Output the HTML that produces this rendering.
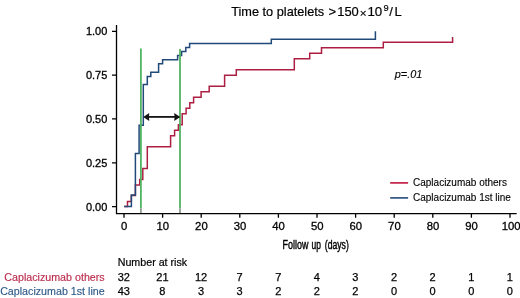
<!DOCTYPE html>
<html><head><meta charset="utf-8">
<style>
html,body{margin:0;padding:0;background:#fff;}
body{width:520px;height:298px;overflow:hidden;}
svg{display:block;will-change:transform;}
text{font-family:"Liberation Sans",sans-serif;}
</style></head>
<body>
<svg width="520" height="298" viewBox="0 0 520 298">

<!-- title -->
<g font-size="13" fill="#000" stroke="#000" stroke-width="0.2">
<text x="231.2" y="16.1" textLength="93" lengthAdjust="spacingAndGlyphs">Time to platelets</text>
<text x="328.6" y="16.1">&gt;</text>
<text x="337.2" y="16.1" textLength="21.6" lengthAdjust="spacingAndGlyphs">150</text>
<text x="359.7" y="16.5" font-size="11.6">×</text>
<text x="367.4" y="16.1" textLength="14.8" lengthAdjust="spacingAndGlyphs">10</text>
<text x="383.5" y="11.4" font-size="9.3">9</text>
<text x="389.3" y="16.1">/</text>
<text x="394.5" y="16.1">L</text>
</g>
<!-- axes -->
<g stroke="#000" stroke-width="1.3" fill="none">
<path d="M116.5 25V213.6H516.7"/>
<path d="M112 31.3H116.5M112 75.1H116.5M112 118.95H116.5M112 162.8H116.5M112 206.6H116.5"/>
<path d="M124.0 213.6V217.8M162.6 213.6V217.8M201.2 213.6V217.8M239.8 213.6V217.8M278.4 213.6V217.8M317.0 213.6V217.8M355.6 213.6V217.8M394.2 213.6V217.8M432.8 213.6V217.8M471.4 213.6V217.8M510.0 213.6V217.8"/>
</g>
<g font-size="11" fill="#000" stroke="#000" stroke-width="0.3" text-anchor="end">
<text x="107.3" y="35">1.00</text>
<text x="107.3" y="78.9">0.75</text>
<text x="107.3" y="122.8">0.50</text>
<text x="107.3" y="166.6">0.25</text>
<text x="107.3" y="210.5">0.00</text>
</g>
<g font-size="11.3" fill="#000" stroke="#000" stroke-width="0.3" text-anchor="middle">
<text x="124.2" y="230">0</text>
<text x="162.8" y="230">10</text>
<text x="201.4" y="230">20</text>
<text x="240.0" y="230">30</text>
<text x="278.6" y="230">40</text>
<text x="317.2" y="230">50</text>
<text x="355.8" y="230">60</text>
<text x="394.4" y="230">70</text>
<text x="433.0" y="230">80</text>
<text x="471.6" y="230">90</text>
<text x="511.2" y="230">100</text>
</g>
<g font-size="13.4" fill="#000" stroke="#000" stroke-width="0.45">
<text x="282.6" y="249.2" textLength="25.8" lengthAdjust="spacingAndGlyphs">Follow</text>
<text x="311.6" y="249.2" textLength="9.4" lengthAdjust="spacingAndGlyphs">up</text>
<text x="324.8" y="249.2" textLength="24" lengthAdjust="spacingAndGlyphs">(days)</text>
</g>

<!-- curves -->
<path fill="none" stroke="#ad1f42" stroke-width="1.5" d="M124.2 206.6H127.5V201.45H131.3V195.5H135.4V185.05H139.7V179.55H142.8V168.55H147.3V146.65H170.6V135.65H174.6V130.15H178.4V124.65H182.2V113.75H186.1V108.25H189.8V102.75H193.6V97.25H201.1V91.75H209.2V86.25H224.6V75.35H236.3V69.85H294.3V58.85H309.7V53.35H321.5V47.85H383.3V42.35H452.6V36.95"/>
<path fill="none" stroke="#214a78" stroke-width="1.5" d="M124.2 206.6H131.4V195H135.4V153.6H139.1V125.3H143.3V84.6H147.3V76.4H150.8V72.2H158.6V63.8H162.6V59.7H177.6V55.6H181.6V51.5H185.8V47.5H189.6V43.4H271.3V39.3H375.4V31.3"/>

<!-- green lines -->
<g stroke="#52b462" stroke-width="1.8">
<path d="M140.9 48.5V208.2M180 49V208.2"/>
</g>
<path d="M140.9 208.2V213M180 208.2V213" stroke="#8e9c90" stroke-width="1.8"/>

<!-- arrow -->
<g fill="#141414" stroke="#141414">
<path d="M147 116.9H176.5" stroke-width="1.8"/>
<path d="M143.2 116.9L149.3 112.9L148.9 116.9L149.3 120.9Z" stroke="none"/>
<path d="M180.3 116.9L174.2 112.9L174.6 116.9L174.2 120.9Z" stroke="none"/>
</g>

<text x="394.8" y="77.8" font-size="10" font-style="italic" fill="#000" stroke="#000" stroke-width="0.12" textLength="27.6" lengthAdjust="spacingAndGlyphs">p=.01</text>

<!-- legend -->
<path d="M390.2 182.9H408.1" stroke="#c0143c" stroke-width="1.6"/>
<path d="M390.2 197.9H408.1" stroke="#214a78" stroke-width="1.6"/>
<text x="413" y="186.4" font-size="10" fill="#000" stroke="#000" stroke-width="0.12">Caplacizumab others</text>
<text x="413" y="201.4" font-size="10" fill="#000" stroke="#000" stroke-width="0.12">Caplacizumab 1st line</text>

<!-- risk table -->
<text x="117.7" y="265.6" font-size="10.7" fill="#000" stroke="#000" stroke-width="0.2">Number at risk</text>
<text x="104.7" y="281.2" font-size="10.7" fill="#bb2b4c" stroke="#bb2b4c" stroke-width="0.15" text-anchor="end">Caplacizumab others</text>
<text x="104.7" y="295" font-size="10.7" fill="#2f5a88" stroke="#2f5a88" stroke-width="0.15" text-anchor="end">Caplacizumab 1st line</text>
<g font-size="11" fill="#000" stroke="#000" stroke-width="0.25" text-anchor="middle">
<text x="123.8" y="281.2">32</text><text x="162.4" y="281.2">21</text><text x="201" y="281.2">12</text><text x="239.6" y="281.2">7</text><text x="278.2" y="281.2">7</text><text x="316.8" y="281.2">4</text><text x="355.4" y="281.2">3</text><text x="394" y="281.2">2</text><text x="432.6" y="281.2">2</text><text x="471.2" y="281.2">1</text><text x="509.8" y="281.2">1</text>
<text x="123.8" y="295">43</text><text x="162.4" y="295">8</text><text x="201" y="295">3</text><text x="239.6" y="295">3</text><text x="278.2" y="295">2</text><text x="316.8" y="295">2</text><text x="355.4" y="295">2</text><text x="394" y="295">0</text><text x="432.6" y="295">0</text><text x="471.2" y="295">0</text><text x="509.8" y="295">0</text>
</g>
</svg>
</body></html>
